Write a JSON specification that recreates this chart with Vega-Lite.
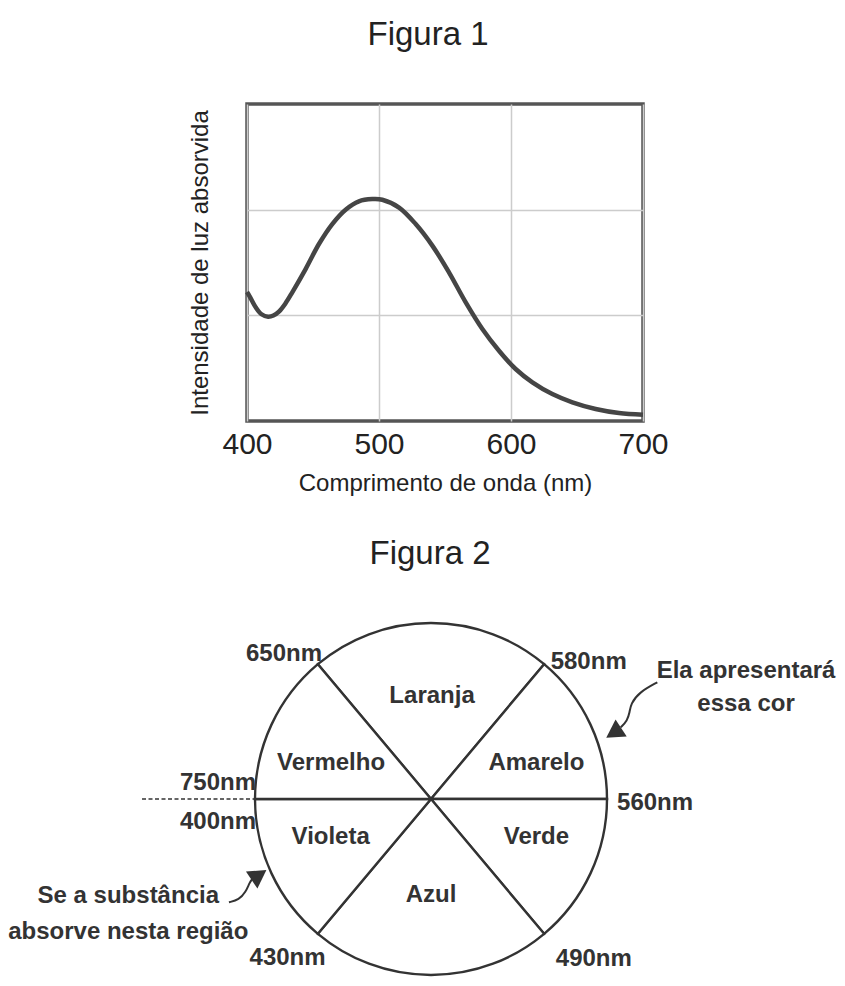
{
  "$schema": "https://vega.github.io/schema/vega-lite/v6.json",
  "padding": {"left": 8, "top": 17, "right": 0, "bottom": 0},
  "background": "white",
  "bounds": "flush",
  "center": true,
  "spacing": 164,
  "config": {
    "font": "Liberation Sans",
    "view": {"stroke": "#555555", "strokeWidth": 3.5}
  },
  "datasets": {
    "espectro": [
      {"wl": 400, "abs": 1.22}, {"wl": 402, "abs": 1.18}, {"wl": 406.6, "abs": 1.076},
      {"wl": 411, "abs": 1.01}, {"wl": 416, "abs": 0.987}, {"wl": 420, "abs": 0.998},
      {"wl": 424.2, "abs": 1.035}, {"wl": 429, "abs": 1.11}, {"wl": 434.3, "abs": 1.218},
      {"wl": 444.4, "abs": 1.438}, {"wl": 454.5, "abs": 1.675}, {"wl": 464.6, "abs": 1.864},
      {"wl": 474.7, "abs": 2.0}, {"wl": 484.8, "abs": 2.079}, {"wl": 494.9, "abs": 2.1},
      {"wl": 502.5, "abs": 2.094}, {"wl": 515.2, "abs": 2.02}, {"wl": 527.8, "abs": 1.864},
      {"wl": 540.4, "abs": 1.66}, {"wl": 553, "abs": 1.407}, {"wl": 565.7, "abs": 1.123},
      {"wl": 578.3, "abs": 0.871}, {"wl": 590.9, "abs": 0.665}, {"wl": 603.5, "abs": 0.492},
      {"wl": 616.2, "abs": 0.366}, {"wl": 631.3, "abs": 0.255}, {"wl": 646.5, "abs": 0.177},
      {"wl": 664.1, "abs": 0.114}, {"wl": 681.8, "abs": 0.076}, {"wl": 700, "abs": 0.06}
    ],
    "setores": [
      {"cor": "Laranja", "a0": -40, "a1": 40, "u": 0.006, "v": 0.585},
      {"cor": "Amarelo", "a0": 40, "a1": 90, "u": 0.599, "v": 0.205},
      {"cor": "Verde", "a0": 90, "a1": 140, "u": 0.599, "v": -0.216},
      {"cor": "Azul", "a0": 140, "a1": 220, "u": 0.0, "v": -0.545},
      {"cor": "Violeta", "a0": 220, "a1": 270, "u": -0.57, "v": -0.216},
      {"cor": "Vermelho", "a0": 270, "a1": 320, "u": -0.568, "v": 0.205}
    ],
    "comprimentos": [
      {"txt": "650nm", "lado": "esq", "u": -0.619, "v": 0.824},
      {"txt": "750nm", "lado": "esq", "u": -0.994, "v": 0.091},
      {"txt": "400nm", "lado": "esq", "u": -0.994, "v": -0.132},
      {"txt": "430nm", "lado": "esq", "u": -0.599, "v": -0.903},
      {"txt": "580nm", "lado": "dir", "u": 0.68, "v": 0.778},
      {"txt": "560nm", "lado": "dir", "u": 1.057, "v": -0.023},
      {"txt": "490nm", "lado": "dir", "u": 0.709, "v": -0.909}
    ],
    "notas": [
      {"txt": "Ela apresentará", "u": 1.79, "v": 0.729},
      {"txt": "essa cor", "u": 1.79, "v": 0.54},
      {"txt": "Se a substância", "u": -1.72, "v": -0.549},
      {"txt": "absorve nesta região", "u": -1.72, "v": -0.756}
    ],
    "setas": [
      {"seta": "dir", "i": 0, "u": 1.286, "v": 0.663},
      {"seta": "dir", "i": 1, "u": 1.182, "v": 0.606},
      {"seta": "dir", "i": 2, "u": 1.135, "v": 0.54},
      {"seta": "dir", "i": 3, "u": 1.129, "v": 0.493},
      {"seta": "dir", "i": 4, "u": 1.115, "v": 0.445},
      {"seta": "dir", "i": 5, "u": 1.078, "v": 0.407},
      {"seta": "esq", "i": 0, "u": -1.148, "v": -0.587},
      {"seta": "esq", "i": 1, "u": -1.091, "v": -0.572},
      {"seta": "esq", "i": 2, "u": -1.053, "v": -0.53},
      {"seta": "esq", "i": 3, "u": -1.03, "v": -0.473},
      {"seta": "esq", "i": 4, "u": -1.016, "v": -0.455}
    ],
    "pontas": [
      {"seta": "dir", "u": 1.038, "v": 0.376},
      {"seta": "esq", "u": -0.977, "v": -0.432}
    ],
    "linha": [
      {"u": -1.642, "u2": -1.0, "v": 0}
    ]
  },
  "vconcat": [
    {
      "width": 396,
      "height": 317,
      "title": {"text": "Figura 1", "fontSize": 33, "fontWeight": "normal", "color": "#222222", "offset": 26, "baseline": "alphabetic", "dx": -17},
      "data": {"name": "espectro"},
      "mark": {"type": "line", "color": "#454545", "strokeWidth": 4.5, "interpolate": "catmull-rom"},
      "encoding": {
        "x": {
          "field": "wl", "type": "quantitative",
          "scale": {"domain": [400, 700], "nice": false, "zero": false},
          "axis": {
            "values": [400, 500, 600, 700], "title": "Comprimento de onda (nm)",
            "labelFontSize": 30, "labelColor": "#222222", "labelPadding": 8, "labelFlush": false,
            "ticks": false, "tickSize": 0, "domain": false,
            "grid": true, "gridColor": "#cccccc", "gridWidth": 1.5,
            "titleFontSize": 24, "titleFontWeight": "normal", "titleColor": "#222222", "titlePadding": 12
          }
        },
        "y": {
          "field": "abs", "type": "quantitative",
          "scale": {"domain": [0, 3], "nice": false},
          "axis": {
            "values": [1, 2], "title": "Intensidade de luz absorvida",
            "labels": false, "ticks": false, "tickSize": 0, "domain": false,
            "grid": true, "gridColor": "#cccccc", "gridWidth": 1.5,
            "titleFontSize": 24, "titleFontWeight": "normal", "titleColor": "#222222", "titlePadding": 35
          }
        }
      }
    },
    {
      "width": 798,
      "height": 390,
      "view": {"stroke": null},
      "title": {"text": "Figura 2", "fontSize": 33, "fontWeight": "normal", "color": "#222222", "offset": -12, "baseline": "alphabetic", "dx": -15},
      "layer": [
        {
          "data": {"name": "setores"},
          "mark": {"type": "arc", "outerRadius": 176, "fill": "white", "stroke": "#333333", "strokeWidth": 2.4},
          "encoding": {
            "x": {"datum": 0, "type": "quantitative", "scale": {"domain": [-2.1875, 2.3466], "nice": false, "zero": false}, "axis": null},
            "y": {"datum": 0, "type": "quantitative", "scale": {"domain": [-1.0, 1.2159], "nice": false, "zero": false}, "axis": null},
            "theta": {"field": "a0", "type": "quantitative", "stack": null, "scale": {"domain": [0, 360], "range": [0, 6.283185]}},
            "theta2": {"field": "a1"}
          }
        },
        {
          "data": {"name": "linha"},
          "mark": {"type": "rule", "stroke": "#333333", "strokeWidth": 1.5, "strokeDash": [4, 2.5]},
          "encoding": {
            "x": {"field": "u", "type": "quantitative"},
            "x2": {"field": "u2"},
            "y": {"field": "v", "type": "quantitative"}
          }
        },
        {
          "data": {"name": "setores"},
          "mark": {"type": "text", "fontSize": 24, "fontWeight": "bold", "color": "#333333", "align": "center", "baseline": "middle"},
          "encoding": {
            "x": {"field": "u", "type": "quantitative"},
            "y": {"field": "v", "type": "quantitative"},
            "text": {"field": "cor"}
          }
        },
        {
          "data": {"name": "comprimentos"},
          "transform": [{"filter": "datum.lado === 'esq'"}],
          "mark": {"type": "text", "fontSize": 24, "fontWeight": "bold", "color": "#333333", "align": "right", "baseline": "middle"},
          "encoding": {
            "x": {"field": "u", "type": "quantitative"},
            "y": {"field": "v", "type": "quantitative"},
            "text": {"field": "txt"}
          }
        },
        {
          "data": {"name": "comprimentos"},
          "transform": [{"filter": "datum.lado === 'dir'"}],
          "mark": {"type": "text", "fontSize": 24, "fontWeight": "bold", "color": "#333333", "align": "left", "baseline": "middle"},
          "encoding": {
            "x": {"field": "u", "type": "quantitative"},
            "y": {"field": "v", "type": "quantitative"},
            "text": {"field": "txt"}
          }
        },
        {
          "data": {"name": "notas"},
          "mark": {"type": "text", "fontSize": 24, "fontWeight": "bold", "color": "#333333", "align": "center", "baseline": "middle"},
          "encoding": {
            "x": {"field": "u", "type": "quantitative"},
            "y": {"field": "v", "type": "quantitative"},
            "text": {"field": "txt"}
          }
        },
        {
          "data": {"name": "setas"},
          "mark": {"type": "line", "stroke": "#333333", "strokeWidth": 2, "interpolate": "basis"},
          "encoding": {
            "x": {"field": "u", "type": "quantitative"},
            "y": {"field": "v", "type": "quantitative"},
            "detail": {"field": "seta"},
            "order": {"field": "i", "type": "quantitative"}
          }
        },
        {
          "data": {"name": "pontas"},
          "transform": [{"filter": "datum.seta === 'dir'"}],
          "mark": {"type": "point", "shape": "triangle-up", "filled": true, "color": "#333333", "size": 420, "angle": 237, "opacity": 1},
          "encoding": {
            "x": {"field": "u", "type": "quantitative"},
            "y": {"field": "v", "type": "quantitative"}
          }
        },
        {
          "data": {"name": "pontas"},
          "transform": [{"filter": "datum.seta === 'esq'"}],
          "mark": {"type": "point", "shape": "triangle-up", "filled": true, "color": "#333333", "size": 420, "angle": 56, "opacity": 1},
          "encoding": {
            "x": {"field": "u", "type": "quantitative"},
            "y": {"field": "v", "type": "quantitative"}
          }
        }
      ]
    }
  ]
}
